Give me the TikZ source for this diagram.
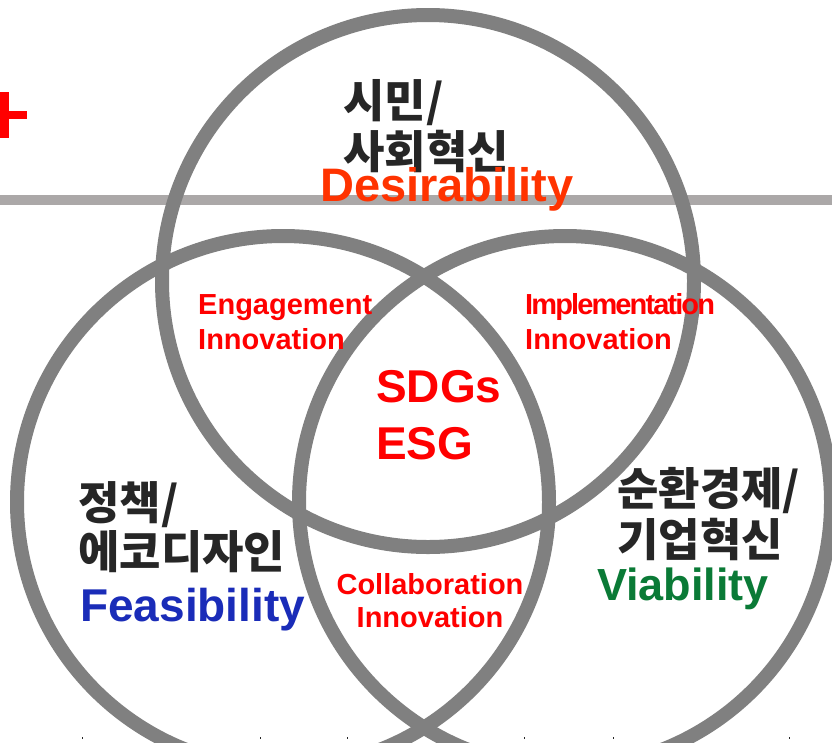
\documentclass[tikz,border=0pt]{standalone}
\usepackage{fontspec}
\setmainfont{Liberation Sans}
\newfontfamily\kr{Noto Sans CJK KR}
\definecolor{ringgray}{HTML}{808080}
\definecolor{bargray}{HTML}{ABA8A8}
\definecolor{txtgray}{HTML}{262626}
\definecolor{desred}{HTML}{FF3300}
\definecolor{feablue}{HTML}{1A2CB8}
\definecolor{viagreen}{HTML}{0A7A36}
\definecolor{inred}{HTML}{FF0000}
\begin{document}
\begin{tikzpicture}[x=1pt,y=-1pt,
  ring/.style={circle, draw=ringgray, line width=14pt, minimum size=532pt, inner sep=0pt},
  kor/.style={font=\kr\fontsize{45}{45}\selectfont\bfseries, text=txtgray, anchor=base west, inner sep=0pt},
  bigword/.style={font=\fontsize{46}{46}\selectfont\bfseries, anchor=base west, inner sep=0pt},
  inno/.style={font=\fontsize{29}{29}\selectfont\bfseries, text=inred, inner sep=0pt},
  core/.style={font=\fontsize{46}{46}\selectfont\bfseries, text=inred, anchor=base west, inner sep=0pt}]
\clip (0,0) rectangle (832,742);
\fill[white] (0,0) rectangle (832,742);
% background bar and plus
\fill[bargray] (0,195) rectangle (832,205);
\fill[inred] (0,92) rectangle (9,138);
\fill[inred] (0,111) rectangle (27,119);
% ticks
\foreach \tx in {82,171,260,347,436,524,613,700,789}
  \fill[txtgray] (\tx,737) rectangle ++(1.2,2);
% circles
\node[ring] (top) at (428,281) {};
\node[ring] (left) at (283,502) {};
\node[ring] (right) at (565,502) {};
% top
\node[kor] (t1) at (343,117) {시민/};
\node[kor] (t2) at (343,168) {사회혁신};
\node[bigword, text=desred, font=\fontsize{47}{47}\selectfont\bfseries] (des) at (320,201) {Desirability};
% left
\node[kor] (l1) at (78,519) {정책/};
\node[kor] (l2) at (78,568) {에코디자인};
\node[bigword, text=feablue] (fea) at (80,621) {Feasibility};
% right
\node[kor] (r1) at (617,505) {순환경제/};
\node[kor] (r2) at (617,556) {기업혁신};
\node[bigword, text=viagreen, font=\fontsize{45}{45}\selectfont\bfseries] (via) at (597,600) {Viability};
% overlaps
\node[inno, anchor=base west] (eng1) at (198,314) {Engagement};
\node[inno, anchor=base west] (eng2) at (198,349) {Innovation};
\node[inno, anchor=base west, font=\fontsize{29}{29}\selectfont\bfseries\addfontfeature{LetterSpace=-6.5}] (imp1) at (525,314) {Implementation};
\node[inno, anchor=base west] (imp2) at (525,349) {Innovation};
\node[inno, anchor=base] (col1) at (430,594) {Collaboration};
\node[inno, anchor=base] (col2) at (430,627) {Innovation};
\node[core] (sdg) at (376,402) {SDGs};
\node[core] (esg) at (376,459) {ESG};
\end{tikzpicture}
\end{document}
